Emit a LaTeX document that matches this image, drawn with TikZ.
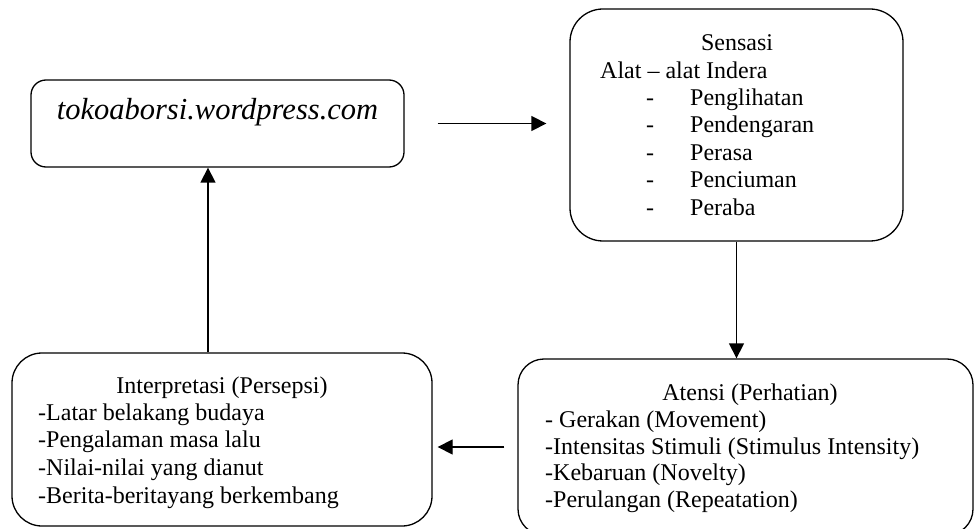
\documentclass[tikz,border=0pt]{standalone}
\usepackage{fontspec}
\setmainfont{Liberation Serif}
\usetikzlibrary{arrows.meta}
\tikzset{
  box/.style={draw, line width=1.3pt, inner sep=0pt, rectangle},
  txt/.style={inner sep=0pt, font=\fontsize{24}{27.5}\selectfont},
  bigtxt/.style={inner sep=0pt, font=\fontsize{30.5}{35}\selectfont\itshape},
  arr/.style={line width=1.3pt, -{Triangle[length=15pt,width=15pt]}}
}
\begin{document}
\begin{tikzpicture}[x=1pt,y=-1pt]
\useasboundingbox (0,0) rectangle (974,529);
\clip (0,0) rectangle (974,529);
% boxes
\node[box, rounded corners=15pt, minimum width=373pt, minimum height=87pt] (b1) at (217.5,123.5) {};
\node[box, rounded corners=33pt, minimum width=333pt, minimum height=232pt] (b2) at (736.5,125) {};
\node[box, rounded corners=26pt, minimum width=455pt, minimum height=176pt] (b3) at (745.5,447) {};
\node[box, rounded corners=30pt, minimum width=420pt, minimum height=173pt] (b4) at (222,439.5) {};
% texts
\node[bigtxt, anchor=base] (t1) at (217.5,120) {tokoaborsi.wordpress.com};
\node[txt, anchor=base] (s0) at (737,51) {Sensasi};
\node[txt, anchor=base west] (s1) at (600,79) {Alat – alat Indera};
\node[txt, anchor=base west] (d1) at (646,106) {-};
\node[txt, anchor=base west] (s2) at (690,106) {Penglihatan};
\node[txt, anchor=base west] (d2) at (646,133) {-};
\node[txt, anchor=base west] (s3) at (690,133) {Pendengaran};
\node[txt, anchor=base west] (d3) at (646,161) {-};
\node[txt, anchor=base west] (s4) at (690,161) {Perasa};
\node[txt, anchor=base west] (d4) at (646,188) {-};
\node[txt, anchor=base west] (s5) at (690,188) {Penciuman};
\node[txt, anchor=base west] (d5) at (646,216) {-};
\node[txt, anchor=base west] (s6) at (690,216) {Peraba};
\node[txt, anchor=base] (a0) at (750,400) {Atensi (Perhatian)};
\node[txt, anchor=base west] (a1) at (545,427) {- Gerakan (Movement)};
\node[txt, anchor=base west] (a2) at (545,454) {-Intensitas Stimuli (Stimulus Intensity)};
\node[txt, anchor=base west] (a3) at (545,480) {-Kebaruan (Novelty)};
\node[txt, anchor=base west] (a4) at (545,507) {-Perulangan (Repeatation)};
\node[txt, anchor=base] (i0) at (222,393) {Interpretasi (Persepsi)};
\node[txt, anchor=base west] (i1) at (38,420) {-Latar belakang budaya};
\node[txt, anchor=base west] (i2) at (38,447) {-Pengalaman masa lalu};
\node[txt, anchor=base west] (i3) at (38,475) {-Nilai-nilai yang dianut};
\node[txt, anchor=base west] (i4) at (38,503) {-Berita-beritayang berkembang};
% connectors
\draw[arr] ([xshift=33pt]b1.east) -- ([xshift=-23pt]b1.east -| b2.west);
\draw[arr] (b2.south) -- (b2.south |- b3.north);
\draw[arr] ([xshift=-13pt]b3.west) -- ([xshift=5pt]b3.west -| b4.east);
\draw[arr] ([xshift=-14pt]b4.north) -- ([xshift=-14pt]b4.north |- b1.south);
\end{tikzpicture}
\end{document}
